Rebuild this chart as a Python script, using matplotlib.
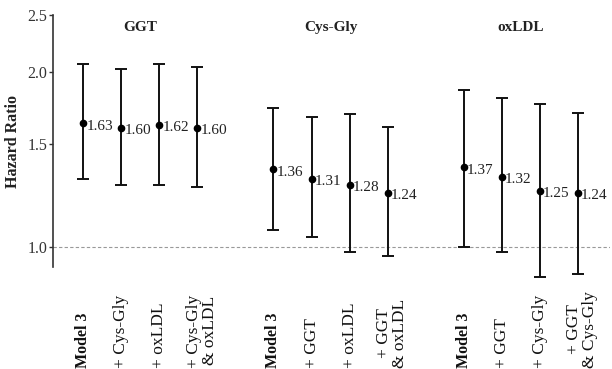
import matplotlib
matplotlib.use('Agg')
import matplotlib.pyplot as plt
import matplotlib.transforms as mtransforms
from matplotlib.ticker import FixedLocator, NullLocator, FixedFormatter

plt.rcParams['font.family'] = ['Liberation Serif', 'DejaVu Serif']

# datos
grupos = ['GGT', 'Cys-Gly', 'oxLDL']
etiquetas = [
    ['Model 3', '+ Cys-Gly', '+ oxLDL', '+ Cys-Gly\n& oxLDL'],
    ['Model 3', '+ GGT', '+ oxLDL', '+ GGT\n& oxLDL'],
    ['Model 3', '+ GGT', '+ Cys-Gly', '+ GGT\n& Cys-Gly'],
]
hr = [
    [1.63, 1.60, 1.62, 1.60],
    [1.36, 1.31, 1.28, 1.24],
    [1.37, 1.32, 1.25, 1.24],
]
ic_inf = [
    [1.31, 1.28, 1.28, 1.27],
    [1.07, 1.04, 0.98, 0.965],
    [1.00, 0.98, 0.89, 0.90],
]
ic_sup = [
    [2.06, 2.02, 2.06, 2.04],
    [1.73, 1.67, 1.69, 1.61],
    [1.86, 1.80, 1.76, 1.70],
]

fig = plt.figure(figsize=(6.12, 3.69), dpi=100)
ax = fig.add_axes([0.0866, 0.276, 0.910, 0.683])

trans = mtransforms.blended_transform_factory(ax.transData, fig.transFigure)

for g in range(len(grupos)):
    xs = [g * 5 + i for i in range(4)]
    y = hr[g]
    err = [[y[i] - ic_inf[g][i] for i in range(4)],
           [ic_sup[g][i] - y[i] for i in range(4)]]
    ax.errorbar(xs, y, yerr=err, fmt='o', color='black', ms=4.5,
                ecolor='#111111', elinewidth=1.4, capsize=4, capthick=1.4,
                clip_on=False, zorder=3)
    for i in range(4):
        ax.annotate(f'{y[i]:.2f}', (xs[i], y[i]), xytext=(2, -2),
                    textcoords='offset points', ha='left', va='center',
                    fontsize=11, color='#222222')
        if i == 0:
            ax.text(xs[i], 0.004, etiquetas[g][i], transform=trans,
                    rotation=90, ha='center', va='bottom',
                    fontsize=11.5, fontweight='bold', color='#111111')
        else:
            ax.text(xs[i] + (0.12 if i == 3 else 0), 0.004, etiquetas[g][i],
                    transform=trans, rotation=90, ha='center', va='bottom',
                    ma='center', fontsize=12.5, color='#111111',
                    linespacing=0.95)
    ax.text(g * 5 + 1.5, 2.38, grupos[g], ha='center', va='center',
            fontsize=11, fontweight='bold', color='#222222')

ax.axhline(1.0, color='#999999', lw=0.8, ls=(0, (3, 2)), zorder=1)

ax.set_yscale('log')
ax.set_ylim(0.924, 2.5)
ax.set_xlim(-0.8, 13.85)
ax.yaxis.set_major_locator(FixedLocator([1.0, 1.5, 2.0, 2.5]))
ax.yaxis.set_major_formatter(FixedFormatter(['1.0', '1.5', '2.0', '2.5']))
ax.yaxis.set_minor_locator(NullLocator())
ax.set_xticks([])
ax.tick_params(axis='y', length=3, width=1, color='#333333',
               labelsize=11.5, labelcolor='#333333', pad=1)
ax.set_ylabel('Hazard Ratio', fontsize=11.5, fontweight='bold',
              color='#222222', labelpad=5)

for lado in ['top', 'right', 'bottom']:
    ax.spines[lado].set_visible(False)
ax.spines['left'].set_color('#333333')
ax.spines['left'].set_linewidth(1.2)

plt.savefig('out.png', dpi=100)
